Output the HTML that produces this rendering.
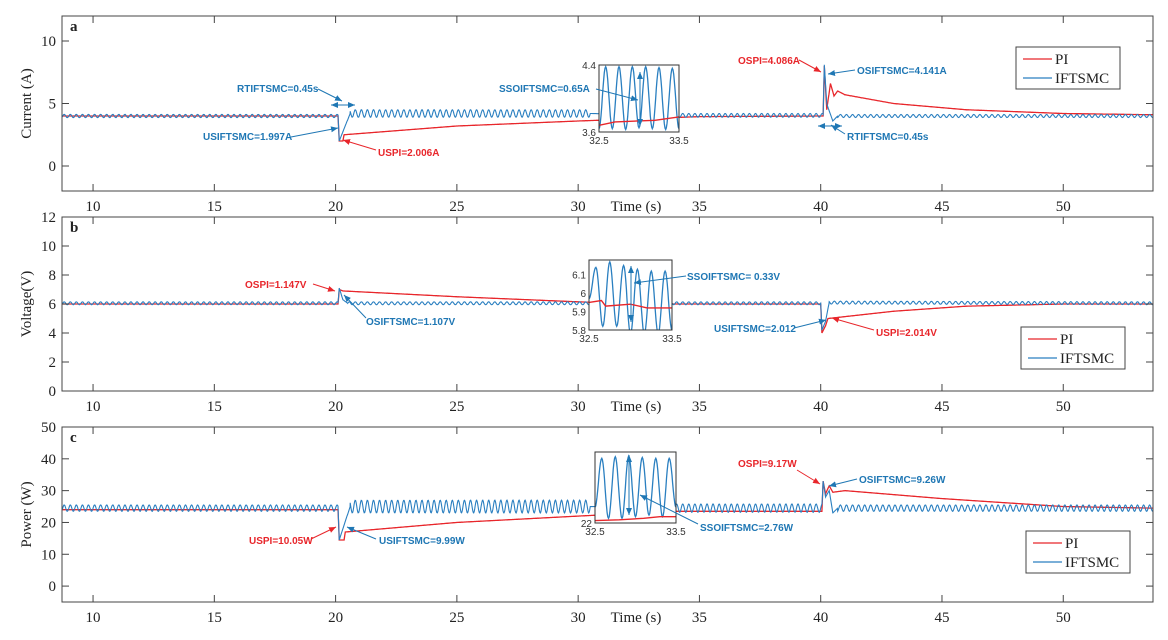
<!DOCTYPE html>
<html><head><meta charset="utf-8"><style>
body{margin:0;background:#fff}
svg{display:block}
.tk{font-family:"Liberation Serif",serif;font-size:15px;fill:#222}
.it{font-family:"Liberation Sans",sans-serif;font-size:10px;fill:#333}
.an{font-family:"Liberation Sans",sans-serif;font-size:10px;font-weight:bold}
</style></head><body>
<svg id="fig" width="1168" height="640" xmlns="http://www.w3.org/2000/svg">
<defs>
<marker id="ab" markerWidth="8" markerHeight="8" refX="7" refY="4" orient="auto" markerUnits="userSpaceOnUse"><path d="M0,1 L7,4 L0,7z" fill="#1f77b4"/></marker>
<marker id="ar" markerWidth="8" markerHeight="8" refX="7" refY="4" orient="auto" markerUnits="userSpaceOnUse"><path d="M0,1 L7,4 L0,7z" fill="#e8262b"/></marker>
<marker id="abs" markerWidth="8" markerHeight="8" refX="0" refY="4" orient="auto" markerUnits="userSpaceOnUse"><path d="M7,1 L0,4 L7,7z" fill="#1f77b4"/></marker>
</defs>
</svg>
<script>
// ---- data ----
const xTicks=[10,15,20,25,30,35,40,45,50];
const aTicks=[0,5,10], bTicks=[0,2,4,6,8,10,12], cTicks=[0,10,20,30,40,50];
const aIF=[[8.7,4.0],[20.1,4.0],[20.15,2.0],[20.6,4.2],[30.5,4.2],[33.8,4.05],[40.1,4.05],[40.15,8.1],[40.25,5],[40.35,4.4],[40.5,3.6],[40.7,4.0],[53.7,4.0]];
const aPI=[[8.7,4.0],[20.1,4.0],[20.15,2.0],[20.3,2.0],[20.35,2.5],[25,3.2],[30,3.6],[35,3.95],[40.1,4.0],[40.15,8.0],[40.25,4.5],[40.4,6.6],[40.55,5.6],[40.7,6.0],[41,5.7],[43,5.0],[46,4.5],[50,4.2],[53.7,4.1]];
const aRip=[[8.7,20.1,0.13],[20.6,30.5,0.3],[33.8,40.1,0.15],[40.7,53.7,0.12]];
const bIF=[[8.7,6.05],[20.1,6.05],[20.15,7.1],[20.3,6.3],[20.5,6.05],[40.0,6.05],[40.05,4.2],[40.2,4.8],[40.35,6.1],[53.7,6.05]];
const bPI=[[8.7,6.0],[20.1,6.0],[20.15,7.0],[20.3,6.9],[25,6.5],[30,6.15],[33,6.0],[40.0,6.0],[40.05,4.0],[40.2,4.5],[40.3,5.0],[43,5.5],[46,5.85],[50,6.0],[53.7,6.0]];
const bRip=[[8.7,20.1,0.1],[20.5,40.0,0.1],[40.35,53.7,0.1]];
const cIF=[[8.7,24.5],[20.1,24.5],[20.15,14.5],[20.6,25],[30.5,25],[34,24.5],[40.05,24.5],[40.1,33],[40.2,28],[40.35,30],[40.5,23],[40.7,24.5],[53.7,24.5]];
const cPI=[[8.7,24],[20.1,24],[20.15,14.5],[20.35,14.5],[20.4,17],[25,20],[30,22],[34,23.5],[40.05,23.5],[40.1,33],[40.2,29],[40.35,31.5],[40.5,29.5],[41,30],[45,27.5],[50,25],[53.7,24.5]];
const cRip=[[8.7,20.1,1.0],[20.6,30.5,2.0],[33.8,40.05,1.3],[40.7,53.7,1.0]];
const aInsPk=[4.38,4.38,4.38,4.38,4.37,4.36], aInsTr=[3.64,3.64,3.63,3.65,3.64,3.63,3.64];
const aInsPI=[[32.5,3.68],[32.7,3.72],[33.2,3.74],[33.5,3.78]];
const bInsPk=[6.14,6.17,6.15,6.13,6.12,6.12], bInsTr=[5.97,5.82,5.82,5.78,5.78,5.78,5.8];
const bInsPI=[[32.5,5.95],[32.65,5.96],[32.7,5.93],[33.0,5.94],[33.2,5.92],[33.5,5.92]];
const cInsPk=[30.2,30.4,30.5,30.3,30.2,30.2], cInsTr=[24,22.6,22.6,22.8,23,22.8,24];
const cInsPI=[[32.5,22.3],[32.8,22.4],[33.1,22.6],[33.3,22.8],[33.5,22.8]];
// ---- drawing ----
const svg=document.getElementById('fig');const NS='http://www.w3.org/2000/svg';
function el(t,a,p){const e=document.createElementNS(NS,t);for(const k in a)e.setAttribute(k,a[k]);(p||svg).appendChild(e);return e;}
const X0=62,X1=1153,T0=8.72,T1=53.7;
const sx=t=>X0+(t-T0)/(T1-T0)*(X1-X0);
function interp(k,t){for(let i=1;i<k.length;i++)if(t<=k[i][0]){const a=k[i-1],b=k[i];return a[1]+(b[1]-a[1])*(t-a[0])/(b[0]-a[0]);}return k[k.length-1][1];}
function series(k,rip){const ts=new Set();for(let t=T0;t<=T1;t+=0.0208)ts.add(+t.toFixed(4));k.forEach(p=>ts.add(p[0]));const arr=[...ts].sort((a,b)=>a-b);return arr.map(t=>{let v=interp(k,t);if(rip)rip.forEach(r=>{if(t>=r[0]&&t<=r[1])v+=r[2]*Math.sin(2*Math.PI*t/0.25);});return [t,v];});}
const panels=[
 {y0:16,y1:191,lo:-2,hi:12,ticks:aTicks,lab:'Current (A)',tag:'a',IF:aIF,PI:aPI,rip:aRip,leg:[1016,47],ins:{x0:599,x1:679,y0:65,y1:132,lo:3.6,hi:4.4,pk:aInsPk,tr:aInsTr,pi:aInsPI,yl:[[4.4,'4.4'],[3.6,'3.6']]}},
 {y0:217,y1:391,lo:0,hi:12,ticks:bTicks,lab:'Voltage(V)',tag:'b',IF:bIF,PI:bPI,rip:bRip,leg:[1021,327],ins:{x0:589,x1:672,y0:260,y1:330,lo:5.8,hi:6.18,pk:bInsPk,tr:bInsTr,pi:bInsPI,yl:[[6.1,'6.1'],[6,'6'],[5.9,'5.9'],[5.8,'5.8']]}},
 {y0:427,y1:602,lo:-5,hi:50,ticks:cTicks,lab:'Power (W)',tag:'c',IF:cIF,PI:cPI,rip:cRip,leg:[1026,531],ins:{x0:595,x1:676,y0:452,y1:523,lo:22,hi:31,pk:cInsPk,tr:cInsTr,pi:cInsPI,yl:[[22,'22']]}}
];
panels.forEach((P,pi)=>{
 const g=el('g',{});
 
 
 const sy=v=>P.y1-(v-P.lo)/(P.hi-P.lo)*(P.y1-P.y0);
 el('clipPath',{id:'cp'+pi},g).appendChild(Object.assign(document.createElementNS(NS,'rect'),{}));
 const cr=g.querySelector('#cp'+pi+' rect');cr.setAttribute('x',X0);cr.setAttribute('y',P.y0);cr.setAttribute('width',X1-X0);cr.setAttribute('height',P.y1-P.y0);
 const pts=s=>s.map(p=>sx(p[0]).toFixed(1)+','+sy(p[1]).toFixed(1)).join(' ');
 const l1=el('polyline',{points:pts(series(P.PI)),fill:'none',stroke:'#e8262b','stroke-width':1.3,'clip-path':'url(#cp'+pi+')'},g);
 
 
 const l2=el('polyline',{points:pts(series(P.IF,P.rip)),fill:'none',stroke:'#2a7fc0','stroke-width':1.1,'clip-path':'url(#cp'+pi+')'},g);
 
 
 // axes box
 const bx=el('rect',{x:X0,y:P.y0,width:X1-X0,height:P.y1-P.y0,fill:'none',stroke:'#444','stroke-width':1},g);
 
 
 xTicks.forEach(t=>{const x=sx(t);
  el('line',{x1:x,x2:x,y1:P.y1,y2:P.y1-7,stroke:'#444'},g);el('line',{x1:x,x2:x,y1:P.y0,y2:P.y0+7,stroke:'#444'},g);
  const tx=el('text',{x:x,y:P.y1+20,'text-anchor':'middle',class:'tk'},g);tx.textContent=t;
  
  });
 P.ticks.forEach(v=>{const y=sy(v);
  el('line',{x1:X0,x2:X0+7,y1:y,y2:y,stroke:'#444'},g);el('line',{x1:X1,x2:X1-7,y1:y,y2:y,stroke:'#444'},g);
  const tx=el('text',{x:X0-6,y:y+5,'text-anchor':'end',class:'tk'},g);tx.textContent=v;
  
  });
 const yl=el('text',{x:0,y:0,'text-anchor':'middle',class:'tk',transform:`translate(31,${(P.y0+P.y1)/2}) rotate(-90)`},g);yl.textContent=P.lab;
 
 
 const tg=el('text',{x:70,y:P.y0+15,class:'tk','font-weight':'bold'},g);tg.textContent=P.tag;
 
 
 const xt=el('text',{x:636,y:P.y1+20,'text-anchor':'middle',class:'tk'},g);xt.textContent='Time (s)';
 
 
 // legend
 const [lx,ly]=P.leg;const lg=el('g',{},g);
 
 
 el('rect',{x:lx,y:ly,width:104,height:42,fill:'#fff',stroke:'#444'},lg);
 el('line',{x1:lx+7,x2:lx+36,y1:ly+12,y2:ly+12,stroke:'#e8262b','stroke-width':1.3},lg);
 el('line',{x1:lx+7,x2:lx+36,y1:ly+31,y2:ly+31,stroke:'#2a7fc0','stroke-width':1.3},lg);
 el('text',{x:lx+39,y:ly+17,class:'tk'},lg).textContent='PI';
 el('text',{x:lx+39,y:ly+36,class:'tk'},lg).textContent='IFTSMC';
 // inset
 const I=P.ins;const ig=el('g',{},g);
 
 
 el('rect',{x:I.x0,y:I.y0,width:I.x1-I.x0,height:I.y1-I.y0,fill:'#fff'},ig);
 el('clipPath',{id:'ic'+pi},ig);const ir=el('rect',{x:I.x0,y:I.y0,width:I.x1-I.x0,height:I.y1-I.y0},ig.querySelector('#ic'+pi));
 const ix=t=>I.x0+(t-32.5)*(I.x1-I.x0), iy=v=>I.y1-(v-I.lo)/(I.hi-I.lo)*(I.y1-I.y0);
 const ext=[];for(let i=0;i<I.tr.length;i++){ext.push(I.tr[i]);if(i<I.pk.length)ext.push(I.pk[i]);}
 const n=ext.length-1;let ip=[];
 for(let i=0;i<n;i++)for(let s=0;s<=10;s++){const f=s/10,t=32.5+(i+f)/n,v=ext[i]+(ext[i+1]-ext[i])*(1-Math.cos(Math.PI*f))/2;ip.push(ix(t).toFixed(1)+','+iy(v).toFixed(1));}
 el('polyline',{points:ip.join(' '),fill:'none',stroke:'#2a7fc0','stroke-width':1.3,'clip-path':'url(#ic'+pi+')'},ig);
 el('polyline',{points:I.pi.map(p=>ix(p[0]).toFixed(1)+','+iy(p[1]).toFixed(1)).join(' '),fill:'none',stroke:'#e8262b','stroke-width':1.4,'clip-path':'url(#ic'+pi+')'},ig);
 el('rect',{x:I.x0,y:I.y0,width:I.x1-I.x0,height:I.y1-I.y0,fill:'none',stroke:'#333'},ig);
 I.yl.forEach(q=>{el('text',{x:I.x0-3,y:iy(q[0])+4,'text-anchor':'end',class:'it'},ig).textContent=q[1];});
 el('text',{x:I.x0,y:I.y1+12,'text-anchor':'middle',class:'it'},ig).textContent='32.5';
 el('text',{x:I.x1,y:I.y1+12,'text-anchor':'middle',class:'it'},ig).textContent='33.5';
});
// annotations [text,x,y,color,arrowFromX,fromY,toX,toY]
const notes=[
 ['RTIFTSMC=0.45s',237,92,'b',318,89,342,101],['USIFTSMC=1.997A',203,140,'b',291,137,338,128],['USPI=2.006A',378,156,'r',376,150,343,140],
 ['SSOIFTSMC=0.65A',499,92,'b',596,89,638,100],['OSPI=4.086A',738,64,'r',799,60,821,72],['OSIFTSMC=4.141A',857,74,'b',855,70,828,74],
 ['RTIFTSMC=0.45s',847,140,'b',845,134,831,125],
 ['OSPI=1.147V',245,288,'r',313,284,335,291],['OSIFTSMC=1.107V',366,325,'b',366,318,344,295],['SSOIFTSMC= 0.33V',687,280,'b',686,276,634,283],
 ['USIFTSMC=2.012',714,332,'b',794,328,826,320],['USPI=2.014V',876,336,'r',874,330,832,318],
 ['USPI=10.05W',249,544,'r',311,539,336,527],['USIFTSMC=9.99W',379,544,'b',376,539,347,527],['SSOIFTSMC=2.76W',700,531,'b',698,524,640,495],
 ['OSPI=9.17W',738,467,'r',797,470,820,484],['OSIFTSMC=9.26W',859,483,'b',857,479,829,486]
];
notes.forEach(n=>{const c=n[3]=='r'?'#e8262b':'#1f77b4';
 const t=el('text',{x:n[1],y:n[2],class:'an',fill:c});t.textContent=n[0];
 
 
 el('line',{x1:n[4],y1:n[5],x2:n[6],y2:n[7],stroke:c,'stroke-width':1,'marker-end':n[3]=='r'?'url(#ar)':'url(#ab)'});});
// double arrows
[[331,105,355,105],[818,126,842,126],[640,72,640,126],[631,266,631,322],[629,455,629,515]].forEach(d=>{
 const l=el('line',{x1:d[0],y1:d[1],x2:d[2],y2:d[3],stroke:'#1f77b4','stroke-width':1,'marker-end':'url(#ab)','marker-start':'url(#abs)'});
 
 });
</script>
</body></html>
